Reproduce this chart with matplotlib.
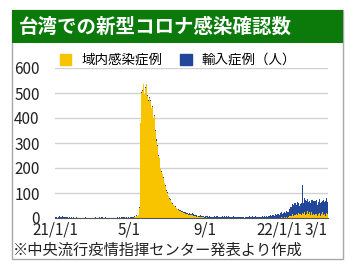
import matplotlib
matplotlib.use('Agg')
import matplotlib.pyplot as plt
from matplotlib.patches import Rectangle, Patch
import pandas as pd

plt.rcParams['font.family'] = ['Noto Sans CJK JP', 'DejaVu Sans']

title = '台湾での新型コロナ感染確認数'
source_note = '※中央流行疫情指揮センター発表より作成'
series_names = ['域内感染症例', '輸入症例（人）']

tick_dates = ['2021-01-01', '2021-05-01', '2021-09-01', '2022-01-01', '2022-03-01']
tick_labels = ['21/1/1', '5/1', '9/1', '22/1/1', '3/1']
y_ticks = [0, 100, 200, 300, 400, 500, 600]

# daily domestic cases, one line per month
domestic_2021 = [
    0, 0, 0, 0, 0, 0, 0, 0, 0, 0, 0, 1, 2, 1, 0, 1, 0, 1, 1, 0, 1, 0, 0, 0, 0, 0, 0, 0, 0, 0, 0,
    0, 0, 0, 1, 0, 0, 0, 0, 0, 0, 0, 0, 0, 0, 0, 0, 0, 0, 0, 0, 0, 0, 0, 0, 0, 0, 0, 0,
    0, 0, 0, 0, 0, 0, 0, 0, 0, 0, 0, 0, 0, 0, 0, 0, 0, 0, 0, 0, 0, 0, 0, 0, 0, 0, 0, 0, 0, 0, 0,
    0, 0, 0, 0, 0, 0, 0, 0, 0, 0, 0, 0, 0, 0, 0, 0, 0, 0, 0, 1, 2, 1, 0, 1, 3, 1, 2, 1, 0, 1,
    1, 0, 2, 0, 1, 0, 1, 2, 3, 5, 4, 7, 10, 6, 8, 12, 20, 40, 180, 380,
    500, 525, 510, 535, 530, 495, 470, 520, 535, 505, 490,
    530, 470, 480, 455, 470, 440, 430, 445, 420, 400, 410, 370, 350, 330, 310,
    290, 265, 250, 240, 215, 200, 190, 185, 175, 170, 160, 150, 140, 130, 115,
    110, 100, 95, 88, 82, 78, 72, 68, 64, 60, 56, 52, 50, 47, 45, 42,
    40, 37, 35, 33, 31, 30, 28, 27, 26, 25, 24, 22, 21, 20, 19,
    18, 17, 16, 15, 15, 14, 13, 13, 12, 12, 11, 12, 10, 9, 10, 8, 8, 7, 6, 7, 5, 6, 5, 4, 5, 3, 4, 3, 2, 3, 2,
    2, 1, 2, 3, 1, 0, 1, 2, 1, 0, 1, 0, 0, 1, 0, 0, 2, 1, 0, 0, 1, 0, 0, 0, 1, 0, 0, 0, 0, 0,
    0, 0, 0, 0, 1, 0, 0, 0, 0, 0, 0, 0, 0, 0, 0, 0, 0, 0, 0, 0, 0, 0, 0, 0, 0, 0, 0, 0, 0, 0, 0,
    0, 0, 0, 0, 0, 0, 0, 0, 0, 0, 0, 0, 0, 0, 0, 0, 0, 0, 0, 0, 0, 0, 0, 0, 0, 0, 0, 0, 0, 0,
    0, 0, 0, 0, 0, 0, 0, 0, 0, 1, 0, 0, 0, 0, 0, 0, 0, 0, 0, 0, 0, 0, 0, 0, 0, 0, 0, 0, 1, 0, 0,
]
domestic_2022 = [
    0, 1, 2, 3, 1, 4, 2, 5, 3, 2, 4, 6, 3, 2, 5, 4, 8, 6, 10, 7, 12, 15, 9, 18, 14, 20, 11, 16, 22, 13, 19,
    20, 15, 25, 18, 12, 22, 22, 28, 16, 24, 20, 14, 26, 18, 30, 22, 16, 24, 20, 12, 18, 26, 14, 22, 16, 20, 12, 18,
    14, 18, 10, 22, 16, 12, 20, 8, 15, 18, 10, 24, 14, 12, 18, 9, 16, 20, 12, 15,
]

# daily imported cases
imported_2021 = [
    4, 2, 3, 6, 2, 5, 3, 7, 4, 2, 5, 3, 6, 2, 4, 3, 5, 2, 3, 6, 4, 2, 1, 3, 5, 2, 4, 3, 1, 2, 3,
    2, 3, 1, 4, 2, 1, 3, 2, 0, 1, 2, 3, 1, 2, 4, 1, 2, 0, 3, 1, 2, 1, 3, 0, 2, 1, 2, 1,
    1, 2, 3, 1, 0, 2, 4, 1, 2, 3, 1, 0, 2, 3, 1, 2, 4, 1, 3, 2, 1, 0, 2, 3, 1, 2, 1, 3, 2, 1, 2,
    2, 1, 3, 2, 4, 1, 2, 3, 1, 5, 2, 3, 1, 2, 4, 3, 1, 2, 6, 3, 2, 4, 1, 3, 2, 5, 3, 1, 2, 4,
    3, 2, 4, 1, 2, 3, 5, 2, 1, 3, 2, 4, 1, 3, 2, 1, 2, 3, 1, 2, 4, 1, 2, 3, 1, 2, 1, 3, 2, 1, 2,
    1, 2, 3, 1, 2, 1, 3, 2, 4, 1, 2, 3, 1, 2, 5, 2, 1, 3, 2, 4, 1, 2, 3, 1, 2, 3, 4, 2, 1, 3,
    2, 4, 3, 1, 5, 2, 3, 4, 2, 6, 3, 2, 4, 1, 3, 5, 2, 4, 3, 2, 6, 3, 1, 4, 2, 5, 3, 2, 4, 3, 2,
    5, 3, 7, 4, 6, 2, 8, 5, 3, 6, 4, 7, 5, 9, 3, 6, 4, 8, 5, 3, 7, 4, 6, 5, 8, 3, 6, 4, 7, 5, 6,
    4, 6, 8, 5, 3, 7, 5, 9, 6, 4, 8, 5, 7, 3, 6, 5, 8, 4, 6, 7, 5, 9, 4, 6, 3, 7, 5, 6, 4, 8,
    6, 4, 7, 5, 3, 8, 5, 6, 4, 7, 3, 6, 5, 8, 4, 6, 3, 7, 5, 4, 6, 8, 5, 3, 7, 4, 6, 5, 3, 7, 4,
    3, 5, 4, 6, 2, 5, 7, 4, 3, 6, 5, 4, 7, 3, 5, 6, 4, 8, 5, 3, 6, 4, 7, 5, 4, 6, 3, 8, 5, 6,
    4, 6, 3, 7, 5, 4, 8, 6, 5, 9, 7, 6, 10, 8, 9, 7, 11, 8, 10, 12, 9, 13, 10, 12, 15, 11, 14, 16, 12, 17, 15,
]
imported_2022 = [
    14, 18, 12, 20, 16, 22, 18, 24, 20, 17, 25, 21, 27, 23, 19, 28, 30, 26, 34, 38,
    32, 40, 44, 38, 46, 40, 48, 38, 44, 50, 40,
    40, 35, 45, 38, 48, 42, 110, 50, 45, 55, 48, 58, 42, 52, 46, 56, 50, 44, 54, 50,
    42, 48, 58, 46, 52, 44, 56, 50,
    48, 55, 42, 60, 50, 45, 58, 52, 62, 48, 56, 44, 60, 52, 46, 58, 50, 62, 54, 48,
]

yellow = '#f8c400'
blue = '#22479a'
green = '#0b7a0b'

dates = pd.date_range('2021-01-01', '2022-03-20', freq='D')
domestic = domestic_2021 + domestic_2022
imported = imported_2021 + imported_2022

W, H = 350, 266


def fx(px):
    return px / W


def fy(py):
    return 1 - py / H


fig = plt.figure(figsize=(3.5, 2.66), dpi=100)

# panel frame and green header
fig.patches.append(Rectangle((fx(12), fy(259)), fx(343) - fx(12), fy(10) - fy(259),
                             transform=fig.transFigure, fill=False, edgecolor='#a8a8a8', lw=1))
fig.patches.append(Rectangle((fx(12), fy(43)), fx(343) - fx(12), fy(10) - fy(43),
                             transform=fig.transFigure, facecolor=green, edgecolor='none'))
fig.text(fx(19), fy(27), title, color='white', fontsize=14, fontweight='bold', va='center')

ax = fig.add_axes([fx(55), fy(218), fx(328) - fx(55), fy(68) - fy(218)])
ax.bar(dates, domestic, width=1.0, color=yellow, lw=0)
ax.bar(dates, imported, bottom=domestic, width=1.0, color=blue, lw=0)

ax.set_xlim(pd.Timestamp('2020-12-31 12:00'), pd.Timestamp('2022-03-20 12:00'))
ax.set_ylim(0, 600)
ax.set_yticks(y_ticks)
ax.set_xticks(pd.to_datetime(tick_dates))
ax.set_xticklabels(tick_labels)
ax.grid(axis='y', color='#d2d2d2', lw=1)
ax.set_axisbelow(True)
for side in ['left', 'right', 'top']:
    ax.spines[side].set_visible(False)
ax.spines['bottom'].set_color('#555555')
ax.tick_params(axis='both', length=0, labelsize=11, colors='#222222')
ax.tick_params(axis='y', pad=11)
ax.tick_params(axis='x', pad=2.5)

handles = [Patch(color=yellow, label=series_names[0]), Patch(color=blue, label=series_names[1])]
ax.legend(handles=handles, ncol=2, loc='center left', bbox_to_anchor=(fx(60), fy(60)),
          bbox_transform=fig.transFigure, frameon=False, fontsize=9.7,
          handlelength=0.85, handleheight=0.85, handletextpad=0.75, columnspacing=1.3,
          borderpad=0, borderaxespad=0)

fig.text(fx(13), fy(250), source_note, fontsize=11, va='center', color='#222222')

fig.savefig('out.png', dpi=100)
